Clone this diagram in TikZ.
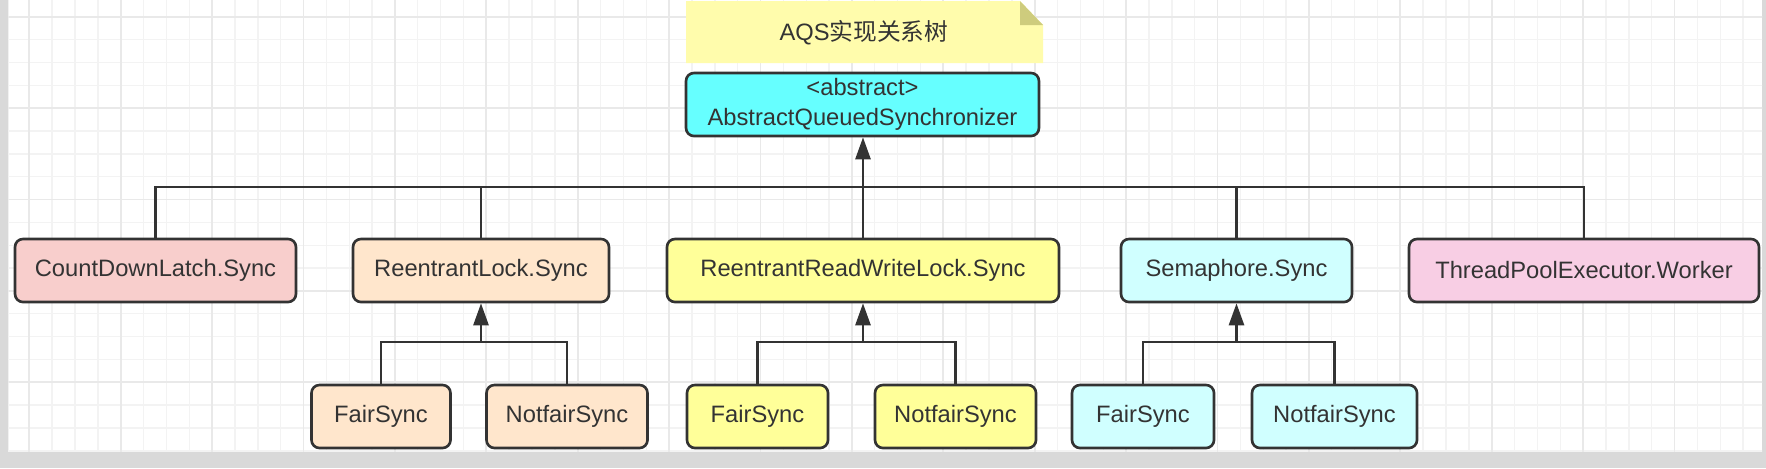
\documentclass[tikz,border=0pt]{standalone}
\usepackage{fontspec}
\setmainfont{Liberation Sans}
\newfontfamily\cjk{Noto Sans CJK SC}
\usetikzlibrary{arrows.meta}

\definecolor{edge}{RGB}{51,51,51}
\definecolor{frame}{RGB}{217,217,217}
\definecolor{gridlo}{RGB}{243,243,243}
\definecolor{gridhi}{RGB}{233,233,233}
\definecolor{notefill}{RGB}{255,252,172}
\definecolor{notefold}{RGB}{206,204,125}
\definecolor{aqsfill}{RGB}{102,255,255}
\definecolor{cdlfill}{RGB}{248,206,204}
\definecolor{rlfill}{RGB}{255,230,204}
\definecolor{rwfill}{RGB}{255,255,153}
\definecolor{smfill}{RGB}{208,255,255}
\definecolor{tpfill}{RGB}{248,206,228}

\tikzset{
  cls/.style={draw=edge, line width=1.5pt, rounded corners=4.5pt, minimum height=1.26cm,
    inner sep=0pt, text=edge, font=\fontsize{13.5}{17}\selectfont, align=center},
  link/.style={draw=edge, line width=1.5pt},
  inherit/.style={link, -{Triangle[length=0.44cm,width=0.3cm]}},
  gridminor/.style={draw=gridlo, line width=0.8pt},
  gridmajor/.style={draw=gridhi, line width=1pt}
}

\begin{document}
\begin{tikzpicture}[x=0.02cm, y=-0.02cm]
\useasboundingbox (0,0) rectangle (1766,468);

% Canvas
\fill[frame] (0,0) rectangle (1766,468);
\begin{scope}
\clip (8.3,0) rectangle (1762,452);
\fill[white] (8.3,0) rectangle (1762,452);
\foreach \i in {0,...,77} \draw[gridminor] ({6.45+\i*22.85},0) -- ++(0,452);
\foreach \i in {0,...,20} \draw[gridminor] (0,{-6.15+\i*22.85}) -- ++(1766,0);
\foreach \i in {0,...,19} \draw[gridmajor] ({29.3+\i*91.4},0) -- ++(0,452);
\foreach \i in {0,...,4} \draw[gridmajor] (0,{16.7+\i*91.4}) -- ++(1766,0);
\end{scope}

% Title note
\fill[notefill] (686,1) -- (1020,1) -- (1043,25) -- (1043,63) -- (686,63) -- cycle;
\fill[notefold] (1020,1) -- (1020,25) -- (1043,25) -- cycle;
\node[text=edge, font=\fontsize{13.5}{17}\selectfont] (title) at (864,33) {AQS{\cjk 实现关系树}};

% Base class
\node[cls, fill=aqsfill, minimum width=7.06cm] (aqs) at (862.5,104.5) {<abstract>\\AbstractQueuedSynchronizer};

% Inner Sync classes
\node[cls, fill=cdlfill, minimum width=5.62cm] (cdl) at (155.5,270.5) {CountDownLatch.Sync};
\node[cls, fill=rlfill, minimum width=5.12cm] (rls) at (481,270.5) {ReentrantLock.Sync};
\node[cls, fill=rwfill, minimum width=7.84cm] (rrwl) at (863,270.5) {ReentrantReadWriteLock.Sync};
\node[cls, fill=smfill, minimum width=4.62cm] (sems) at (1236.5,270.5) {Semaphore.Sync};
\node[cls, fill=tpfill, minimum width=7.00cm] (tpew) at (1584,270.5) {ThreadPoolExecutor.Worker};

% Fair / nonfair variants
\node[cls, fill=rlfill, minimum width=2.78cm] (rlfair) at (381,416.5) {FairSync};
\node[cls, fill=rlfill, minimum width=3.22cm] (rlnf) at (567,416.5) {NotfairSync};
\node[cls, fill=rwfill, minimum width=2.82cm] (rwfair) at (757.5,416.5) {FairSync};
\node[cls, fill=rwfill, minimum width=3.22cm] (rwnf) at (955.5,416.5) {NotfairSync};
\node[cls, fill=smfill, minimum width=2.84cm] (smfair) at (1143,416.5) {FairSync};
\node[cls, fill=smfill, minimum width=3.30cm] (smnf) at (1334.5,416.5) {NotfairSync};

% Inheritance lines
\coordinate (bus) at (863,187);
\draw[link] (cdl.north) |- (bus) -| (tpew.north);
\foreach \n in {rls, sems} \draw[link] (\n.north) -- (\n.north |- bus);
\draw[inherit] (rrwl.north) -- (rrwl.north |- aqs.south);

\coordinate (rljoin) at (481,342);
\coordinate (rwjoin) at (863,342);
\coordinate (smjoin) at (1236.5,342);
\foreach \a/\b/\j/\p in {rlfair/rlnf/rljoin/rls, rwfair/rwnf/rwjoin/rrwl, smfair/smnf/smjoin/sems} {
  \draw[link] (\a.north) |- (\j) -| (\b.north);
  \draw[inherit] (\j) -- (\p.south);
}

\end{tikzpicture}
\end{document}
